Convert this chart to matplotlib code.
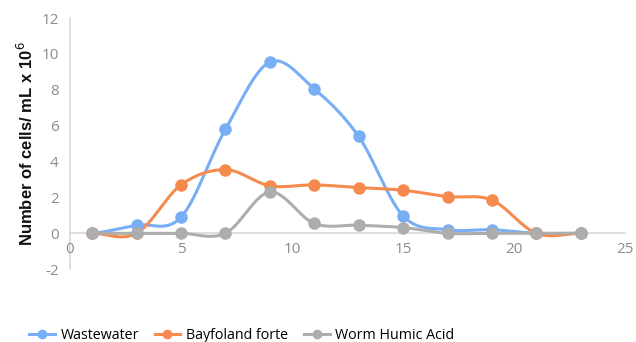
import numpy as np
import matplotlib.pyplot as plt

plt.rcParams["font.family"] = ["Open Sans", "DejaVu Sans"]
plt.rcParams["axes.unicode_minus"] = False

# sampling points
x_vals = [1, 3, 5, 7, 9, 11, 13, 15, 17, 19, 21, 23]

wastewater = [0, 0.45, 0.9, 5.8, 9.55, 8.05, 5.4, 0.97, 0.2, 0.2, 0, 0]
bayfoland = [0, 0, 2.7, 3.55, 2.65, 2.7, 2.55, 2.4, 2.05, 1.85, 0, 0]
humic = [0, 0, 0, 0, 2.3, 0.55, 0.45, 0.32, 0, 0, 0, 0]

series_names = ["Wastewater", "Bayfoland forte", "Worm Humic Acid"]
colors = ["#78AEF6", "#F58A4F", "#ADADAD"]


def smooth(xs, ys, n=30):
    # Catmull-Rom spline through the points (like spreadsheet "smoothed line")
    xs = np.asarray(xs, float)
    ys = np.asarray(ys, float)
    px = np.concatenate([[2 * xs[0] - xs[1]], xs, [2 * xs[-1] - xs[-2]]])
    py = np.concatenate([[ys[0]], ys, [ys[-1]]])
    out_x, out_y = [], []
    t = np.linspace(0, 1, n)
    for i in range(1, len(px) - 2):
        for arr, out in ((px, out_x), (py, out_y)):
            p0, p1, p2, p3 = arr[i - 1], arr[i], arr[i + 1], arr[i + 2]
            seg = 0.5 * ((2 * p1) + (-p0 + p2) * t
                         + (2 * p0 - 5 * p1 + 4 * p2 - p3) * t ** 2
                         + (-p0 + 3 * p1 - 3 * p2 + p3) * t ** 3)
            out.extend(seg)
    return np.array(out_x), np.array(out_y)


fig = plt.figure(figsize=(6.36, 3.42), dpi=100)
ax = fig.add_axes([0.110, 0.213, 0.873, 0.734])

for ys, name, c in zip([wastewater, bayfoland, humic], series_names, colors):
    sx, sy = smooth(x_vals, ys)
    ax.plot(sx, sy, color=c, lw=2.2, zorder=2)
    ax.plot(x_vals, ys, "o", color=c, ms=8, zorder=3)
    ax.plot([], [], "-o", color=c, lw=2.2, ms=6, label=name)

ax.set_xlim(0, 25)
ax.set_ylim(-2, 12)
ax.set_xticks(range(0, 26, 5))
ax.set_yticks(range(-2, 13, 2))

# x axis crosses at y = 0, labels sit right under it
for s in ["top", "right"]:
    ax.spines[s].set_visible(False)
ax.spines["bottom"].set_position(("data", 0))
for s in ["left", "bottom"]:
    ax.spines[s].set_color("#D9D9D9")
    ax.spines[s].set_linewidth(1.2)
    ax.spines[s].set_zorder(1)
ax.tick_params(length=0, colors="#8C8C8C", labelsize=11)
ax.tick_params(axis="y", pad=8)
ax.tick_params(axis="x", pad=6)

ax.set_ylabel("Number of cells/ mL x 10$^6$", fontsize=12, fontweight="bold",
              color="#111111", labelpad=4, family=["Liberation Sans"])

fig.legend(loc="lower center", bbox_to_anchor=(0.38, -0.04), ncol=3,
           frameon=False, fontsize=10.3, handlelength=1.8, handletextpad=0.4,
           columnspacing=1.1)

fig.savefig("out.png", dpi=100)
